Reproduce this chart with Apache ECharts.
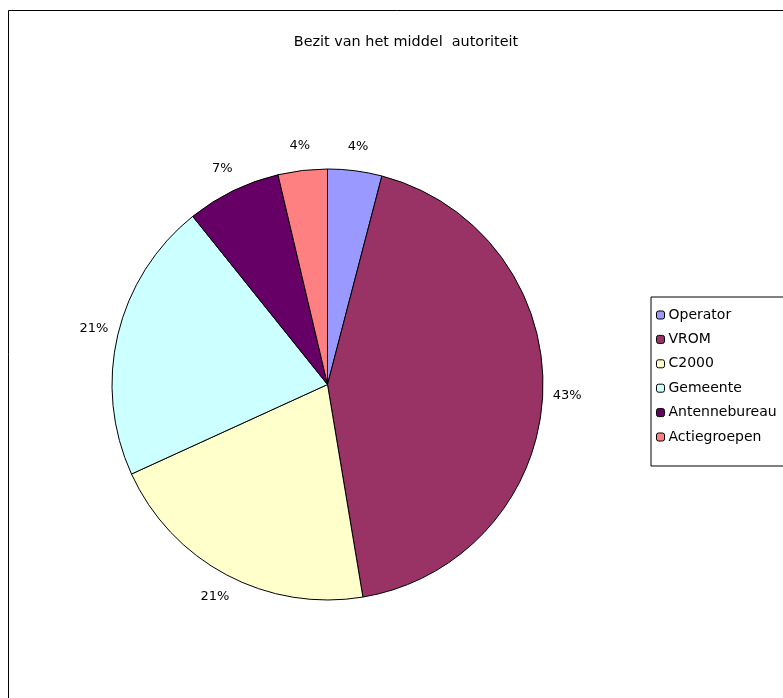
<!DOCTYPE html>
<html><head><meta charset="utf-8">
<script src="https://cdn.jsdelivr.net/npm/echarts@6/dist/echarts.min.js"></script>
<style>html,body{margin:0;padding:0;background:#fff}#c{width:783px;height:698px}</style>
</head><body><div id="c"></div>
<script>
const titleText = 'Bezit van het middel  autoriteit';
const categories = ['Operator', 'VROM', 'C2000', 'Gemeente', 'Antennebureau', 'Actiegroepen'];
const values = [4.06, 43.3, 20.8, 21.06, 7.06, 3.69];
const colors = ['#9999FF', '#993366', '#FFFFCC', '#CCFFFF', '#660066', '#FF8080'];

const font = '"DejaVu Sans", sans-serif';
const mainData = categories.map((n, i) => ({ name: n, value: values[i], itemStyle: { color: colors[i] } }));
const labelData = categories.map((n, i) => ({ name: n, value: values[i] }));

const chart = echarts.init(document.getElementById('c'), null, { renderer: 'canvas' });
chart.setOption({
  animation: false,
  backgroundColor: '#fff',
  graphic: [{ type: 'rect', shape: { x: 8.5, y: 10.5, width: 900, height: 900 }, style: { fill: 'none', stroke: '#000', lineWidth: 1 }, silent: true }],
  title: { text: titleText, left: 401, top: 30, textAlign: 'center',
    textStyle: { fontFamily: font, fontSize: 14.4, fontWeight: 'normal', color: '#000' } },
  legend: {
    orient: 'vertical', left: 651, top: 297,
    data: categories,
    itemWidth: 8, itemHeight: 8, itemGap: 10.4,
    padding: [11, 8, 22, 5],
    borderColor: '#000', borderWidth: 1,
    itemStyle: { borderColor: '#000', borderWidth: 1 },
    textStyle: { fontFamily: font, fontSize: 14, color: '#000', lineHeight: 14, padding: [0, 0, 0, -1] },
    selectedMode: false
  },
  series: [
    { type: 'pie', center: [327.5, 384.5], radius: [0, 215.5], startAngle: 90, clockwise: true,
      data: mainData, label: { show: false }, labelLine: { show: false },
      itemStyle: { borderColor: '#000', borderWidth: 1 }, silent: true },
    { type: 'pie', center: [327.5, 384.5], radius: [232, 242], startAngle: 90, clockwise: true,
      percentPrecision: 0, data: labelData, silent: true, legendHoverLink: false,
      itemStyle: { color: 'rgba(0,0,0,0)', borderWidth: 0 },
      label: { show: true, position: 'inside', formatter: '{d}%', fontFamily: font, fontSize: 13, color: '#000' },
      labelLine: { show: false } }
  ]
});
</script></body></html>
